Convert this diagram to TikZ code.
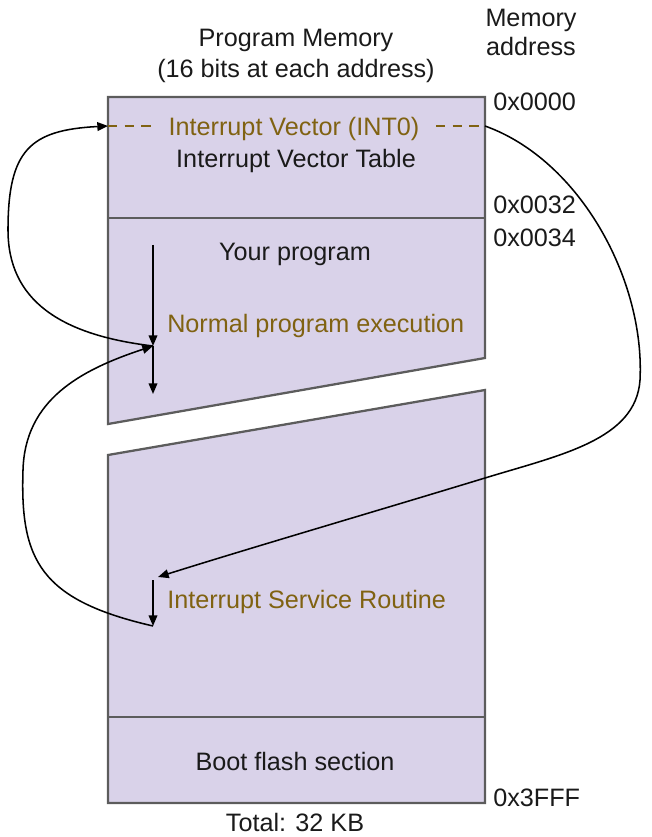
\documentclass[tikz,border=0pt]{standalone}
\usepackage{fontspec}
\setmainfont{Liberation Sans}
\usetikzlibrary{arrows.meta}
\definecolor{memfill}{HTML}{D9D2E9}
\definecolor{memedge}{HTML}{5C5C5C}
\definecolor{hilite}{RGB}{128,98,18}
\definecolor{ink}{HTML}{1A1A1A}
\begin{document}
\begin{tikzpicture}[x=0.75pt,y=-0.75pt,
  lbl/.style={font=\fontsize{18.9}{22}\selectfont, text=ink, inner sep=0pt,
              text height=13.6pt, text depth=0pt},
  hl/.style={lbl, text=hilite},
  mem/.style={draw=memedge, line width=1.7pt, fill=memfill, line join=miter},
  sep/.style={draw=memedge, line width=1.7pt},
  ivdash/.style={draw=hilite, line width=1.1pt, dash pattern=on 7pt off 5.5pt},
  flow/.style={draw=black, line width=1.15pt, -{Triangle[length=8pt,width=6.5pt]}}
]
% page frame
\useasboundingbox (0,0) rectangle (651,837);

% upper block: vector table and start of the program area
\path[mem] (108,97) -- (485,97) -- (485,358) -- (108,424) -- cycle;
\path[sep] (108,218) -- (485,218);
% lower block: rest of the program area and boot section
\path[mem] (108,455) -- (485,390) -- (485,803) -- (108,803) -- cycle;
\path[sep] (108,717) -- (485,717);

% headings
\node[lbl] (title1) at (296,37) {Program Memory};
\node[lbl] (title2) at (296,68) {(16 bits at each address)};
\node[lbl] (colhd1) at (531,17) {Memory};
\node[lbl] (colhd2) at (531,46) {address};

% addresses
\node[lbl, anchor=west] (a0000) at (493,101) {0x0000};
\node[lbl, anchor=west] (a0032) at (493,204) {0x0032};
\node[lbl, anchor=west] (a0034) at (493,237) {0x0034};
\node[lbl, anchor=west] (a3fff) at (493,797) {0x3FFF};

% section labels
\node[hl] (ivec) at (294,126) {Interrupt Vector (INT0)};
\node[lbl] (ivt) at (296,158) {Interrupt Vector Table};
\node[lbl] (prog) at (295,251) {Your program};
\node[hl, anchor=west] (normal) at (167,323) {Normal program execution};
\node[hl, anchor=west] (isr) at (167,599) {Interrupt Service Routine};
\node[lbl] (boot) at (295,761) {Boot flash section};
\node[lbl] (total) at (295,822) {Total: 32 KB};

% anchor points of the flow
\coordinate (ivL) at (108,126);
\coordinate (ivR) at (485,126);
\coordinate (ivLd) at (154,126);
\coordinate (ivRd) at (436,126);
\coordinate (progTop) at (153,245);
\coordinate (jn) at (153,346);
\coordinate (progEnd) at (153,394);
\coordinate (isrIn) at (158,577);
\coordinate (isrTop) at (153,580);
\coordinate (isrEnd) at (153,626);

% vector entry marker
\path[ivdash] (ivL) -- (ivLd);
\path[ivdash] (ivRd) -- (ivR);

% normal execution
\path[flow] (progTop) -- (jn);
\path[flow] (jn) -- (progEnd);

% interrupt: jump to the vector
\path[flow] (jn) .. controls (60,335) and (8,300) .. (8,230)
                  .. controls (8,150) and (30,130) .. (ivL);
% vector: jump to the service routine
\path[flow] (ivR) .. controls (580,160) and (645,280) .. (640,380)
                  .. controls (636,440) and (560,455) .. (485,478)
                  .. controls (380,510) and (250,548) .. (isrIn);
% service routine
\path[flow] (isrTop) -- (isrEnd);
% return from interrupt
\path[flow] (isrEnd) .. controls (40,600) and (20,560) .. (23,470)
                     .. controls (25,400) and (80,370) .. (jn);
\end{tikzpicture}
\end{document}
